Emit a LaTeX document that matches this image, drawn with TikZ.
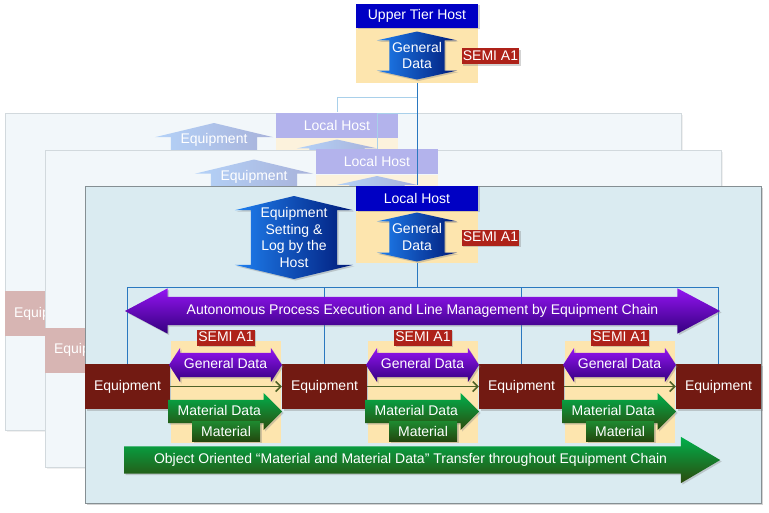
\documentclass[tikz,border=0pt]{standalone}
\usepackage{fontspec}
\setmainfont{Liberation Sans}
\usetikzlibrary{arrows.meta,positioning,shapes.arrows,shadows}
\definecolor{hostBlue}{HTML}{0000C4}
\definecolor{hostFade}{HTML}{B3B3EC}
\definecolor{beige}{HTML}{FDE5AE}
\definecolor{beigeFade}{HTML}{FCF2DC}
\definecolor{semiRed}{HTML}{AE2219}
\definecolor{eqRed}{HTML}{721A12}
\definecolor{eqFade}{HTML}{D7B5B3}
\definecolor{blueLight}{HTML}{1F80F0}
\definecolor{blueDark}{HTML}{001A78}
\definecolor{blueFadeL}{HTML}{B4D2F8}
\definecolor{blueFadeR}{HTML}{A8B2DA}
\definecolor{purpTop}{HTML}{9414F2}
\definecolor{purpBot}{HTML}{34007E}
\definecolor{grnTop}{HTML}{00B04C}
\definecolor{grnBot}{HTML}{2C4A0C}
\definecolor{matTop}{HTML}{1E8A30}
\definecolor{matBot}{HTML}{23480E}
\definecolor{panelFill}{HTML}{DAEBF1}
\definecolor{panelDraw}{HTML}{858F93}
\definecolor{backFill}{HTML}{F2F7FA}
\definecolor{backDraw}{HTML}{D2D9DD}
\definecolor{busBlue}{HTML}{2A78C0}
\definecolor{busFade}{HTML}{A9D0EA}
\definecolor{flowOlive}{HTML}{4F6228}
\tikzset{
  shadowed/.style ={drop shadow={shadow xshift=1.5pt, shadow yshift=-1.5pt, opacity=.35}},
  panel/.style    ={fill=panelFill, draw=panelDraw, line width=1pt, shadowed, minimum width=676pt, minimum height=317pt, anchor=north west},
  backpanel/.style={fill=backFill, draw=backDraw, line width=1pt, minimum width=676pt, minimum height=317pt, anchor=north west,
                    drop shadow={shadow xshift=1.5pt, shadow yshift=-1.5pt, opacity=.12}},
  hostbox/.style  ={fill=hostBlue, text=white, minimum width=122pt, minimum height=25pt, inner sep=0pt},
  host/.style     ={hostbox, shadowed},
  beigebox/.style ={fill=beige, inner sep=0pt, minimum width=122pt},
  semi/.style     ={fill=semiRed, text=white, inner xsep=1pt, inner ysep=2pt, text height=10pt, text depth=2pt, shadowed},
  eqbox/.style    ={fill=eqRed, text=white, minimum width=85pt, minimum height=45pt, inner sep=0pt},
  equip/.style    ={eqbox, shadowed},
  vdarrow/.style  ={double arrow, rotate=90, inner xsep=0pt, left color=blueLight, right color=blueDark},
  fadearrow/.style={vdarrow, left color=blueFadeL, right color=blueFadeR},
  lbl/.style      ={text=white, align=center},
  hdarrow/.style  ={double arrow, inner xsep=0pt, text height=10pt, text depth=3pt, text=white, shadowed},
  purparrow/.style={hdarrow, top color=purpTop, bottom color=purpBot},
  grnarrow/.style ={single arrow, anchor=tail, inner xsep=0pt, text height=10pt, text depth=3pt, text=white,
                    top color=grnTop, bottom color=grnBot, shadowed},
  matbox/.style   ={top color=matTop, bottom color=matBot, text=white, minimum width=68pt, minimum height=20pt, inner sep=0pt, shadowed},
  busline/.style  ={draw=busBlue, line width=1pt},
  fadeline/.style ={draw=busFade, line width=0.8pt},
  flow/.style     ={draw=flowOlive, line width=1.5pt, -{Straight Barb[length=5pt,width=10pt]}},
}
\begin{document}
\begin{tikzpicture}[x=1pt, y=-1pt, font=\fontsize{14}{16.5}\selectfont]
  \useasboundingbox (0,0) rectangle (769,512);

  % hidden layers behind the front one
  \foreach \dx/\dy/\n in {-80/-73/a, -40/-36.5/b}{
    \begin{scope}[shift={(\dx,\dy)}]
      \node[backpanel] (pan\n) at (85,186) {};
      \node[beigebox, fill=beigeFade, minimum height=52pt] (bg\n) at (417,237) {};
      \node[hostbox, fill=hostFade, anchor=south] (lh\n) at (bg\n.north) {Local Host};
      \node[fadearrow, minimum height=49pt, minimum width=80pt, inner ysep=27.5pt,
            double arrow head extend=12.5pt, double arrow tip angle=155] (gd\n) at (bg\n) {};
      \node[fadearrow, minimum height=83pt, minimum width=118pt, inner ysep=43pt,
            double arrow head extend=16pt, double arrow tip angle=153] (set\n) at (294,237.5) {};
      \node[lbl] (settext\n) at (294,213) {Equipment};
      \node[eqbox, fill=eqFade] (eq\n) at (127.5,386.5) {Equipment};
    \end{scope}
  }
  \coordinate (tapa) at (417,97);
  \coordinate (tapb) at (417,113.5);
  \draw[fadeline] (tapa) -| (lha.north);
  \draw[fadeline] (tapb) -| (lhb.north);

  % front layer
  \node[panel] (panF) at (85,186) {};
  \node[beigebox, minimum height=52pt] (bgF) at (417,237) {};
  \node[host, anchor=south] (lhF) at (bgF.north) {Local Host};
  \foreach \i in {0,...,3}
    \node[equip] (eq\i) at ({127.5+197*\i},386.5) {Equipment};
  \coordinate (busY) at (0,287);
  \draw[busline] (bgF.south) -- (bgF.south |- busY);
  \draw[busline] (eq0.north) |- (eq3.north |- busY) -- (eq3.north);
  \foreach \i in {1,2}
    \draw[busline] (eq\i.north) -- (eq\i.north |- busY);

  \node[vdarrow, shadowed, minimum height=49pt, minimum width=80pt, inner ysep=27.5pt,
        double arrow head extend=12.5pt, double arrow tip angle=155] (gdF) at (bgF) {};
  \node[lbl] (gdFtext) at (gdF) {General\\Data};
  \node[semi] (semiF) at (490.5,237.5) {SEMI A1};
  \node[vdarrow, shadowed, minimum height=83pt, minimum width=118pt, inner ysep=43pt,
        double arrow head extend=16pt, double arrow tip angle=153] (setF) at (294,237.5) {};
  \node[lbl] (settextF) at (setF) {Equipment\\Setting \&\\Log by the\\Host};

  \node[purparrow, minimum height=595pt, minimum width=45pt, inner ysep=7.5pt,
        double arrow head extend=8.5pt, double arrow tip angle=56] (auto) at (422.5,311)
        {Autonomous Process Execution and Line Management by Equipment Chain};

  % one link between two equipments
  \foreach \i in {0,1,2}{
    \node[beigebox, minimum width=110pt, minimum height=102pt] (cell\i) at ({226+197*\i},392) {};
    \node[semi] (semi\i) at ({226+197*\i},337.5) {SEMI A1};
    \node[purparrow, minimum height=113pt, minimum width=34pt, inner ysep=5.5pt,
          double arrow head extend=5pt, double arrow tip angle=114] (gen\i) at ({225.5+197*\i},365) {General Data};
    \node[grnarrow, minimum height=114pt, minimum width=37pt, inner ysep=5pt,
          single arrow head extend=7pt, single arrow tip angle=90] (md\i) at ({168+197*\i},411.5) {Material Data};
    \node[matbox] (mat\i) at ({226+197*\i},431) {Material};
  }
  \foreach \i/\j in {0/1, 1/2, 2/3}
    \draw[flow] (eq\i) -- (eq\j);

  \node[grnarrow, minimum height=596pt, minimum width=46pt, inner ysep=7pt,
        single arrow head extend=9.5pt, single arrow tip angle=61] (obj) at (124,460)
        {Object Oriented “Material and Material Data” Transfer throughout Equipment Chain};

  % upper tier
  \node[beigebox, minimum height=55pt] (bgU) at (417,55.5) {};
  \node[host, minimum height=24pt, anchor=south] (hostU) at (bgU.north) {Upper Tier Host};
  \node[vdarrow, shadowed, minimum height=48pt, minimum width=80pt, inner ysep=27.5pt,
        double arrow head extend=12.5pt, double arrow tip angle=155] (gdU) at (bgU) {};
  \node[lbl] (gdUtext) at (gdU) {General\\Data};
  \node[semi] (semiU) at (490.5,56) {SEMI A1};
  \draw[busline] (bgU.south) -- (lhF.north);
\end{tikzpicture}
\end{document}
